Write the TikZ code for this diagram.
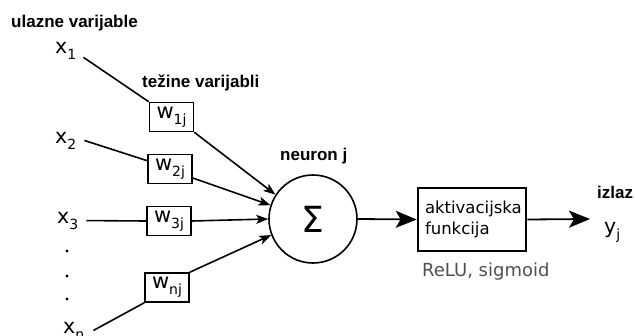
\documentclass[tikz,border=0pt]{standalone}
\usepackage{fontspec}
\setmainfont{DejaVu Sans}
\newfontfamily\labfont{Liberation Sans}
\usetikzlibrary{arrows.meta}
\definecolor{relu}{RGB}{80,80,80}
\newcommand\subs[1]{\raisebox{-0.3em}{\fontsize{14}{14}\selectfont #1}}
\tikzset{
  lbl/.style={font=\labfont\bfseries\fontsize{17}{17}\selectfont, inner sep=0pt},
  var/.style={font=\fontsize{20.5}{20.5}\selectfont, inner sep=1pt},
  wbox/.style={draw, line width=1.6pt, minimum width=44pt, minimum height=29pt, inner sep=0pt, font=\fontsize{21}{21}\selectfont},
  conn/.style={line width=1.6pt},
  sarrow/.style={line width=1.6pt, -{Stealth[length=12pt,width=9pt,inset=3pt]}},
  barrow/.style={line width=1.8pt, -{Stealth[length=21pt,width=17pt,inset=5pt]}},
}
\begin{document}
\begin{tikzpicture}[x=1pt,y=1pt]
\useasboundingbox (0,0) rectangle (635,-335);
% labels
\node[lbl, anchor=base west] (lin) at (11,-27) {ulazne varijable};
\node[lbl, anchor=base west] (lw) at (142,-87) {težine varijabli};
\node[lbl, anchor=base west] (ln) at (280,-160) {neuron j};
\node[lbl, anchor=base west] (lout) at (597,-198) {izlaz};
% inputs
\node[var, anchor=base west] (x1) at (54,-53) {x\subs{1}};
\node[var, anchor=base west] (x2) at (54,-143) {x\subs{2}};
\node[var, anchor=base west] (x3) at (56,-223) {x\subs{3}};
\node[var, anchor=base west] (xn) at (62,-333) {x\subs{n}};
\fill (67,-251) circle (1.7);
\fill (67,-276) circle (1.7);
\fill (67,-299) circle (1.7);
% weights
\node[wbox] (w1) at (171.5,-117) {w\subs{1j}};
\node[wbox] (w2) at (170,-169) {w\subs{2j}};
\node[wbox] (w3) at (169,-221) {w\subs{3j}};
\node[wbox] (wn) at (167,-287.5) {w\subs{nj}};
% neuron
\node[draw, circle, line width=1.6pt, minimum size=88pt, inner sep=0pt, font=\fontsize{36}{36}\selectfont] (sig) at (313,-219) {Σ};
% activation
\node[draw, line width=2.6pt, text width=94pt, inner xsep=7pt, minimum height=63pt, align=left, font=\fontsize{16.5}{21}\selectfont] (act) at (472,-219.5) {aktivacijska\\funkcija};
\node[anchor=base west, inner sep=0pt, text=relu, font=\fontsize{18}{18}\selectfont] (relu) at (422,-276) {ReLU, sigmoid};
% output
\node[var, anchor=base west] (y) at (603,-233) {y\subs{j}};
\coordinate (out) at (590,-219);
% connectors
\draw[conn] ([xshift=6pt,yshift=3pt]x1.south east) -- (w1.north west);
\draw[conn] ([xshift=7pt]x2.east) -- ([yshift=-7pt]w2.north west);
\draw[conn] ([xshift=7pt]x3.east) -- (w3.west);
\draw[conn] ([xshift=8pt]xn.east) -- (wn.south west);
\draw[sarrow] (w1.south east) -- (sig.147);
\draw[sarrow] ([yshift=-9pt]w2.east) -- (sig.162);
\draw[sarrow] (w3.east) -- (sig.180);
\draw[sarrow] (wn.north east) -- (sig.201);
\draw[barrow] (sig.east) -- (act.west);
\draw[barrow] (act.east) -- (out);
\end{tikzpicture}
\end{document}
